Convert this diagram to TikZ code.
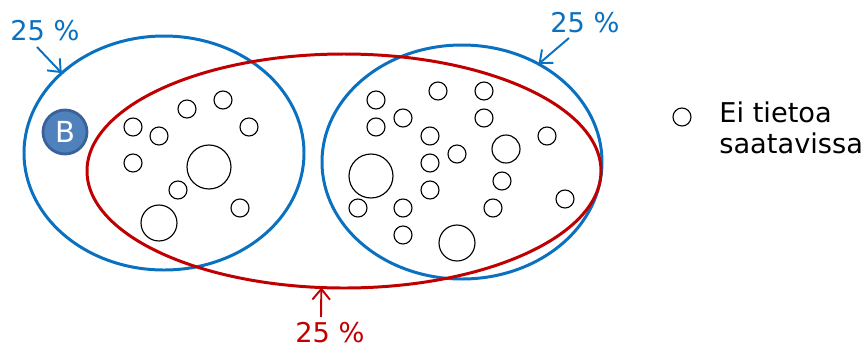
\documentclass[tikz,border=0pt]{standalone}
\usepackage{fontspec}
\setmainfont{DejaVu Sans}
\usetikzlibrary{shapes.geometric,arrows.meta}
\definecolor{setblue}{HTML}{0A70C0}
\definecolor{setred}{HTML}{C00000}
\definecolor{bfill}{HTML}{4F81BD}
\definecolor{bdraw}{HTML}{3A629A}
\tikzset{
  groupset/.style={ellipse,draw=#1,line width=1.7pt,inner sep=0pt,outer sep=0pt},
  unit/.style={circle,draw=black,line width=0.65pt,inner sep=0pt,outer sep=0pt,minimum size=18*0.02cm},
  big/.style={unit,minimum size=#1*0.04cm},
  pct/.style={font=\fontsize{15.5}{18}\selectfont,inner sep=0pt},
  pointer/.style={line width=1.1pt,-{Straight Barb[length=6pt,width=10pt]}},
}
\begin{document}
\begin{tikzpicture}[x=0.02cm,y=-0.02cm]
\useasboundingbox (0,0) rectangle (862,349);
% the two blue groups and the red group spanning both
\node[groupset=setblue,minimum width=280*0.02cm,minimum height=234*0.02cm] (left) at (164,153) {};
\node[groupset=setblue,minimum width=280*0.02cm,minimum height=234*0.02cm] (right) at (462,162) {};
\node[groupset=setred,minimum width=514*0.02cm,minimum height=234*0.02cm] (mid) at (344,171) {};
% member B
\node[circle,fill=bfill,draw=bdraw,line width=1.6pt,minimum size=44*0.02cm,inner sep=0pt,
      text=white,font=\fontsize{16.5}{18}\selectfont] (b) at (65,132) {B};
% members of the left group
\foreach \n/\p in {l1/{(133,127)},l2/{(159,136)},l3/{(187,109)},l4/{(223,100)},
                   l5/{(249,127)},l6/{(133,163)},l7/{(178,190)},l8/{(240,208)}}
  \node[unit] (\n) at \p {};
\node[big=22] (l9) at (209,167) {};
\node[big=18] (l10) at (159,223) {};
% members of the right group
\foreach \n/\p in {r1/{(376,100)},r2/{(438,91)},r3/{(484,91)},r4/{(376,127)},
                   r5/{(403,118)},r6/{(484,118)},r7/{(430,136)},r8/{(457,154)},
                   r9/{(547,136)},r10/{(430,163)},r11/{(430,190)},r12/{(502,181)},
                   r13/{(565,199)},r14/{(358,208)},r15/{(403,208)},r16/{(493,208)},
                   r17/{(403,235)}}
  \node[unit] (\n) at \p {};
\node[big=14] (r18) at (506,149) {};
\node[big=22] (r19) at (371,176) {};
\node[big=18] (r20) at (457,243) {};
% share labels
\node[pct,text=setblue] (pl) at (45,31) {25 \%};
\node[pct,text=setblue] (pr) at (585,23) {25 \%};
\node[pct,text=setred] (pm) at (330,333) {25 \%};
\coordinate (al) at (37,47);
\coordinate (ar) at (569,38);
\coordinate (am) at (321,317);
\draw[pointer,setblue] (al) -- (left.142);
\draw[pointer,setblue] (ar) -- (right.52);
\draw[pointer,setred] (am) -- (mid.259);
% legend
\node[unit] (key) at (682,117) {};
\node[font=\fontsize{15.5}{17.6}\selectfont,align=left,anchor=west,inner sep=0pt] (keytext)
  at (719,128) {Ei tietoa\\saatavissa};
\end{tikzpicture}
\end{document}
